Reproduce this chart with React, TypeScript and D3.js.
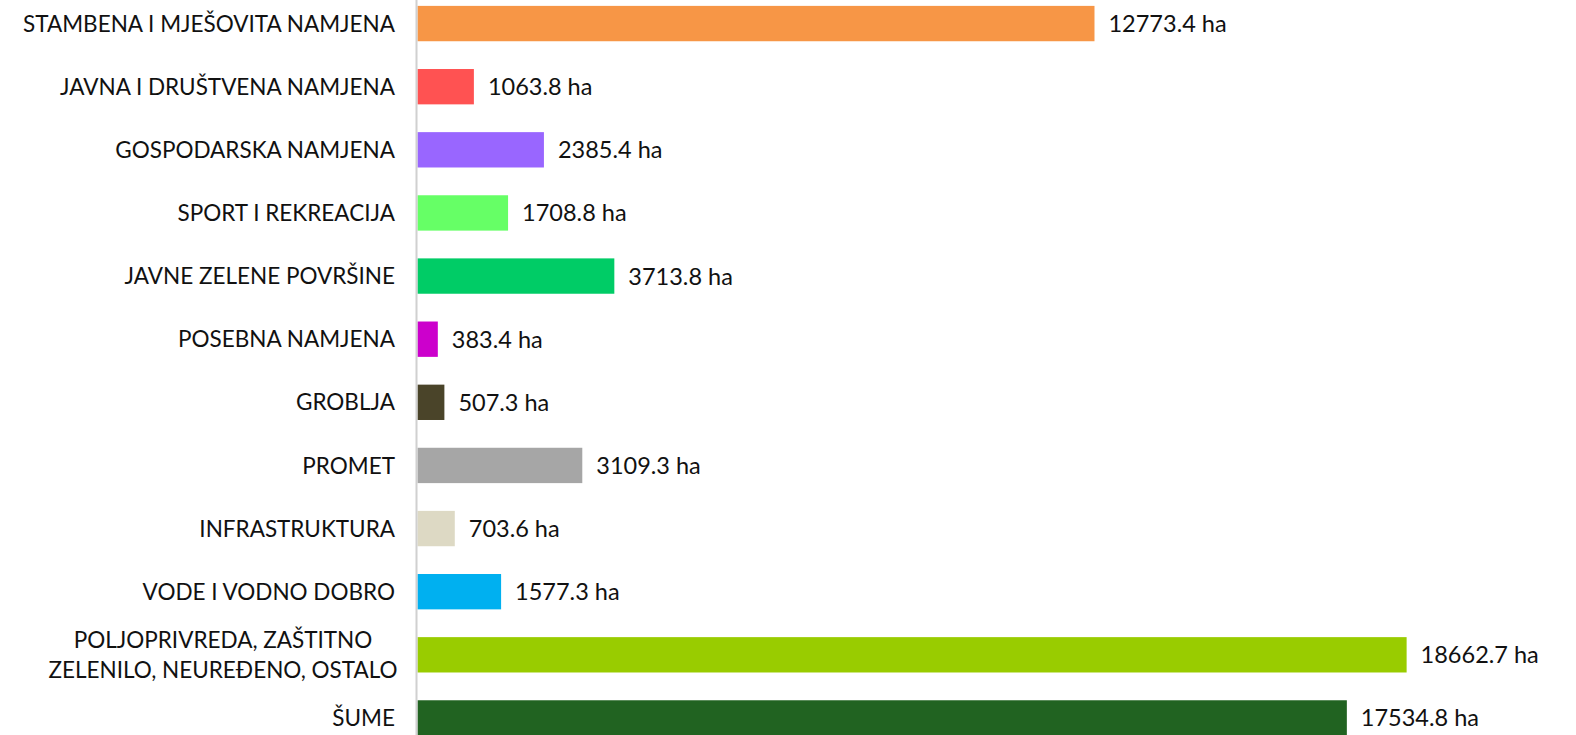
import React from "react";
import * as d3 from "d3";

const categories = [
  ["STAMBENA I MJEŠOVITA NAMJENA"],
  ["JAVNA I DRUŠTVENA NAMJENA"],
  ["GOSPODARSKA NAMJENA"],
  ["SPORT I REKREACIJA"],
  ["JAVNE ZELENE POVRŠINE"],
  ["POSEBNA NAMJENA"],
  ["GROBLJA"],
  ["PROMET"],
  ["INFRASTRUKTURA"],
  ["VODE I VODNO DOBRO"],
  ["POLJOPRIVREDA, ZAŠTITNO", "ZELENILO, NEUREĐENO, OSTALO"],
  ["ŠUME"],
];
const values = [12773.4, 1063.8, 2385.4, 1708.8, 3713.8, 383.4, 507.3, 3109.3, 703.6, 1577.3, 18662.7, 17534.8];
const colors = ["#F79646", "#FF5252", "#9966FF", "#66FF66", "#00CC66", "#CC00CC", "#4A4429", "#A6A6A6", "#DDD9C4", "#00B0F0", "#99CC00", "#216321"];

const W = 1576, H = 735;
const FONT = "Lato, 'Open Sans', sans-serif";

export default function App() {
  const x = d3.scaleLinear().domain([0, 20000]).range([417.5, 1477.5]);
  const y = d3.scaleBand<number>().domain(d3.range(values.length)).range([-8, 749.5]).paddingInner(0.44).paddingOuter(0.22);
  const labelRight = 395;
  return (
    <svg width={W} height={H} style={{ position: "absolute", left: 0, top: 0 }}>
      <rect width={W} height={H} fill="#fff" />
      {values.map((v, i) => {
        const yc = (y(i) as number) + y.bandwidth() / 2;
        const lines = categories[i];
        const lh = 30;
        return (
          <g key={i}>
            <rect x={x(0)} y={y(i)} width={x(v) - x(0)} height={y.bandwidth()} fill={colors[i]} />
            <text x={x(v) + 14} y={yc} dy="0.36em" fontFamily={FONT} fontSize={23.5} fill="#111">
              {`${v.toFixed(1)} ha`}
            </text>
            {lines.length === 1 ? (
              <text x={labelRight} y={yc} dy="0.36em" textAnchor="end" fontFamily={FONT} fontSize={22.5} fill="#111">
                {lines[0]}
              </text>
            ) : (
              <text x={labelRight - 172} y={yc} textAnchor="middle" fontFamily={FONT} fontSize={22.5} fill="#111">
                {lines.map((l, j) => (
                  <tspan key={j} x={labelRight - 172} y={yc + (j - (lines.length - 1) / 2) * lh} dy="0.36em">{l}</tspan>
                ))}
              </text>
            )}
          </g>
        );
      })}
      <line x1={416.5} x2={416.5} y1={0} y2={H} stroke="#D0D0D0" strokeWidth={2} />
    </svg>
  );
}
